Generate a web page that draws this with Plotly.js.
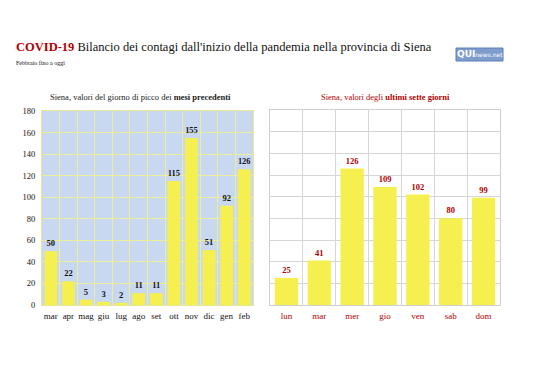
<!DOCTYPE html>
<html>
<head>
<meta charset="utf-8">
<script src="https://cdn.plot.ly/plotly-3.0.1.min.js"></script>
<style>html,body{margin:0;padding:0;background:#fff}#chart{width:538px;height:380px}</style>
</head>
<body>
<div id="chart"></div>
<script>
const months = ["mar","apr","mag","giu","lug","ago","set","ott","nov","dic","gen","feb"];
const monthPeaks = [50,22,5,3,2,11,11,115,155,51,92,126];
const days = ["lun","mar ","mer","gio","ven","sab","dom"];
const dayLabels = ["lun","mar","mer","gio","ven","sab","dom"];
const dayValues = [25,41,126,109,102,80,99];
const yTicks = [0,20,40,60,80,100,120,140,160,180];

const W = 538, H = 380;
const px = v => v / W, py = v => 1 - v / H;
const serif = "Liberation Serif, Times New Roman, serif";
const red = "#b00000";
const yellow = "#f5f050";

const traces = [
  {type:"bar", x: months, y: monthPeaks, xaxis:"x", yaxis:"y",
   marker:{color: yellow}, width:0.72,
   text: monthPeaks.map(String), textposition:"outside", cliponaxis:false,
   textfont:{family:serif, size:8.5, color:"#111", weight:"bold"}, hoverinfo:"x+y"},
  {type:"bar", x: days, y: dayValues, xaxis:"x2", yaxis:"y2",
   marker:{color: yellow}, width:0.71,
   text: dayValues.map(String), textposition:"outside", cliponaxis:false,
   textfont:{family:serif, size:8.5, color:red, weight:"bold"}, hoverinfo:"x+y"}
];

const layout = {
  width: W, height: H,
  margin:{l:0,r:0,t:0,b:0},
  paper_bgcolor:"#fff",
  showlegend:false,
  bargap:0.28,
  font:{family:serif, size:8.5, color:"#111"},
  xaxis:{domain:[px(42),px(253)], anchor:"y", type:"category",
    tickson:"boundaries", showgrid:true, gridcolor:"#ecee9c", gridwidth:1,
    showline:true, mirror:true, linecolor:"#e8e890", linewidth:1,
    ticks:"", tickangle:0, ticklabelstandoff:2, tickfont:{family:serif,size:9,color:"#111"}, fixedrange:true},
  yaxis:{domain:[py(305),py(111)], anchor:"x", range:[0,180],
    tickvals:yTicks, showgrid:true, gridcolor:"#ecee9c", gridwidth:1,
    zeroline:false, showline:true, mirror:true, linecolor:"#e8e890",
    ticks:"", ticklabelstandoff:4, tickfont:{family:serif,size:8.5,color:"#111"}, fixedrange:true},
  xaxis2:{domain:[px(270),px(500)], anchor:"y2", type:"category",
    tickson:"boundaries", showgrid:true, gridcolor:"#d6d6d6", gridwidth:1,
    showline:true, mirror:true, linecolor:"#cfcfcf", linewidth:1,
    tickvals: days, ticktext: dayLabels, tickangle:0, ticklabelstandoff:2,
    ticks:"", tickfont:{family:serif,size:9,color:red}, fixedrange:true},
  yaxis2:{domain:[py(305),py(110)], anchor:"x2", range:[0,180],
    tickvals:yTicks, showticklabels:false, showgrid:true, gridcolor:"#d6d6d6",
    zeroline:false, showline:true, mirror:true, linecolor:"#cfcfcf", ticks:"", fixedrange:true},
  plot_bgcolor:"rgba(0,0,0,0)",
  shapes:[
    {type:"rect", xref:"x domain", yref:"y domain", x0:0, x1:1, y0:0, y1:1,
     fillcolor:"#c9d8f1", line:{width:0}, layer:"below"},
    {type:"rect", xref:"paper", yref:"paper", x0:px(456), x1:px(503), y0:py(61), y1:py(48),
     fillcolor:"#7f9dcc", line:{color:"#5d7fb4", width:1}}
  ],
  annotations:[
    {xref:"paper", yref:"paper", x:px(14), y:py(56), xanchor:"left", yanchor:"bottom", showarrow:false,
     text:"<b><span style='color:"+red+"'>COVID-19</span></b> Bilancio dei contagi dall'inizio della pandemia nella provincia di Siena",
     font:{family:serif, size:12.5, color:"#111"}},
    {xref:"paper", yref:"paper", x:px(14), y:py(68), xanchor:"left", yanchor:"bottom", showarrow:false,
     text:"Febbraio fino a oggi", font:{family:serif, size:6, color:"#111"}},
    {xref:"paper", yref:"paper", x:px(140), y:py(97), xanchor:"center", yanchor:"middle", showarrow:false,
     text:"Siena, valori del giorno di picco dei <b>mesi precedenti</b>", font:{family:serif, size:8.5, color:"#222"}},
    {xref:"paper", yref:"paper", x:px(385), y:py(97), xanchor:"center", yanchor:"middle", showarrow:false,
     text:"Siena, valori degli <b>ultimi sette giorni</b>", font:{family:serif, size:8.5, color:red}},
    {xref:"paper", yref:"paper", x:px(479.5), y:py(54.5), xanchor:"center", yanchor:"middle", showarrow:false,
     text:"<b>QUI</b><span style='font-size:6px'>news.net</span>", font:{family:"DejaVu Sans", size:9, color:"#fff"}}
  ]
};

Plotly.newPlot("chart", traces, layout, {displayModeBar:false, staticPlot:true});
</script>
</body>
</html>
